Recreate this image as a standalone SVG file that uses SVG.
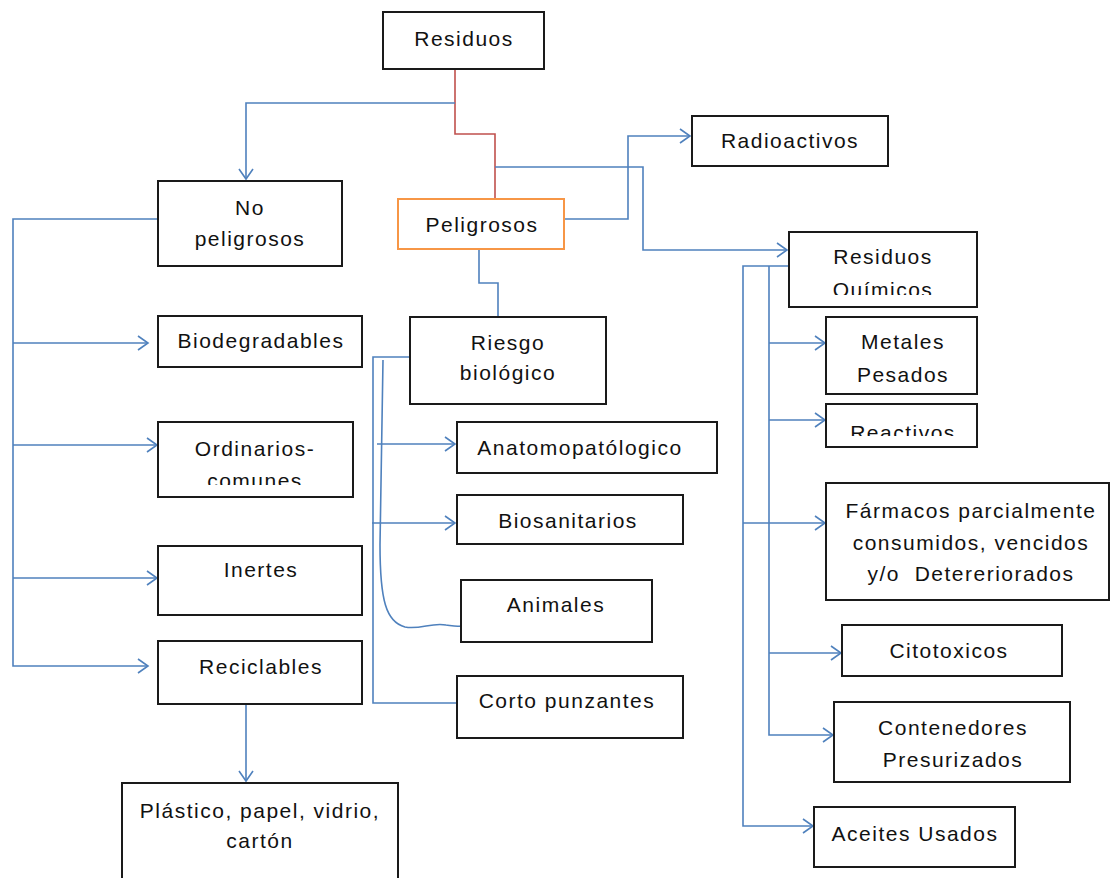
<svg xmlns="http://www.w3.org/2000/svg" width="1110" height="878" viewBox="0 0 1110 878">
<style>
.box{fill:#fff;stroke:#1a1a1a;stroke-width:2}
.obox{fill:#fff;stroke:#f79646;stroke-width:2}
.t{font-family:"Liberation Sans",Arial,sans-serif;font-size:21px;letter-spacing:1.5px;fill:#111;text-anchor:middle}
.c{fill:none;stroke:#4f81bd;stroke-width:1.6}
.a{marker-end:url(#arr)}
.red{fill:none;stroke:#c0504d;stroke-width:1.6}
</style>
<defs>
<marker id="arr" markerUnits="userSpaceOnUse" markerWidth="20" markerHeight="20" refX="0" refY="0" viewBox="-12 -10 14 20" orient="auto" overflow="visible">
<path d="M-10,-7 L0,0 L-10,7" fill="none" stroke="#4f81bd" stroke-width="1.6"/>
</marker>
<clipPath id="clipQ"><rect x="789" y="232" width="188" height="63"/></clipPath>
<clipPath id="clipO"><rect x="158" y="422" width="195" height="63"/></clipPath>
<clipPath id="clipR"><rect x="826" y="404" width="151" height="32"/></clipPath>
</defs>
<rect width="1110" height="878" fill="#fff"/>

<g id="connectors">
<path class="red" d="M455,69 V134 H495 V199"/>
<path class="c a" d="M455,103 H246 V179"/>
<path class="c a" d="M495,167 H643 V250 H787"/>
<path class="c a" d="M564,219 H628 V136 H690"/>
<path class="c" d="M479,249 V283 H498 V317"/>
<path class="c a" d="M158,219 H13 V666 H148"/>
<path class="c a" d="M13,343 H148"/>
<path class="c a" d="M13,445 H157"/>
<path class="c a" d="M13,578 H157"/>
<path class="c a" d="M246,704 V781"/>
<path class="c" d="M410,357 H373 V703 H457"/>
<path class="c a" d="M377,444 H455"/>
<path class="c a" d="M372,523 H455"/>
<path class="c" d="M383,360 L380,545 C380,600 386,622 405,627 C420,630 432,622 446,625 C453,626 457,627 461,626"/>
<path class="c a" d="M789,266 H743 V826 H813"/>
<path class="c a" d="M769,266 V735 H833"/>
<path class="c a" d="M769,343 H825"/>
<path class="c a" d="M769,420 H825"/>
<path class="c a" d="M743,523 H825"/>
<path class="c a" d="M769,653 H841"/>
</g>

<g id="residuos"><rect class="box" x="383" y="12" width="161" height="57"/><text class="t" x="464" y="46">Residuos</text></g>
<g id="peligrosos"><rect class="obox" x="398" y="199" width="166" height="50"/><text class="t" x="482" y="232">Peligrosos</text></g>
<g id="radioactivos"><rect class="box" x="692" y="116" width="196" height="50"/><text class="t" x="790" y="148">Radioactivos</text></g>
<g id="nopeligrosos"><rect class="box" x="158" y="181" width="184" height="85"/><text class="t" x="250" y="215">No</text><text class="t" x="250" y="246">peligrosos</text></g>
<g id="biodegradables"><rect class="box" x="158" y="316" width="204" height="51"/><text class="t" x="261" y="348">Biodegradables</text></g>
<g id="ordinarios"><rect class="box" x="158" y="422" width="195" height="75"/><g clip-path="url(#clipO)"><text class="t" x="255" y="456">Ordinarios-</text><text class="t" x="255" y="488">comunes</text></g></g>
<g id="inertes"><rect class="box" x="158" y="546" width="204" height="69"/><text class="t" x="261" y="577">Inertes</text></g>
<g id="reciclables"><rect class="box" x="158" y="641" width="204" height="63"/><text class="t" x="261" y="674">Reciclables</text></g>
<g id="plastico"><rect class="box" x="122" y="783" width="276" height="120"/><text class="t" x="260" y="818">Plástico, papel, vidrio,</text><text class="t" x="260" y="848">cartón</text></g>
<g id="riesgo"><rect class="box" x="410" y="317" width="196" height="87"/><text class="t" x="508" y="350">Riesgo</text><text class="t" x="508" y="380">biológico</text></g>
<g id="anatomo"><rect class="box" x="457" y="422" width="260" height="51"/><text class="t" x="580" y="455">Anatomopatólogico</text></g>
<g id="biosanitarios"><rect class="box" x="457" y="495" width="226" height="49"/><text class="t" x="568" y="528">Biosanitarios</text></g>
<g id="animales"><rect class="box" x="461" y="580" width="191" height="62"/><text class="t" x="556" y="612">Animales</text></g>
<g id="corto"><rect class="box" x="457" y="676" width="226" height="62"/><text class="t" x="567" y="708">Corto punzantes</text></g>
<g id="quimicos"><rect class="box" x="789" y="232" width="188" height="75"/><text class="t" x="883" y="264">Residuos</text><g clip-path="url(#clipQ)"><text class="t" x="883" y="297">Químicos</text></g></g>
<g id="metales"><rect class="box" x="826" y="317" width="151" height="77"/><text class="t" x="903" y="349">Metales</text><text class="t" x="903" y="382">Pesados</text></g>
<g id="reactivos"><rect class="box" x="826" y="404" width="151" height="43"/><g clip-path="url(#clipR)"><text class="t" x="903" y="440">Reactivos</text></g></g>
<g id="farmacos"><rect class="box" x="826" y="483" width="283" height="117"/><text class="t" x="971" y="518">Fármacos parcialmente</text><text class="t" x="971" y="550">consumidos, vencidos</text><text class="t" x="971" y="581" xml:space="preserve">y/o  Detereriorados</text></g>
<g id="citotoxicos"><rect class="box" x="842" y="625" width="220" height="51"/><text class="t" x="949" y="658">Citotoxicos</text></g>
<g id="contenedores"><rect class="box" x="834" y="702" width="236" height="80"/><text class="t" x="953" y="735">Contenedores</text><text class="t" x="953" y="767">Presurizados</text></g>
<g id="aceites"><rect class="box" x="814" y="807" width="201" height="60"/><text class="t" x="915" y="841">Aceites Usados</text></g>
</svg>
